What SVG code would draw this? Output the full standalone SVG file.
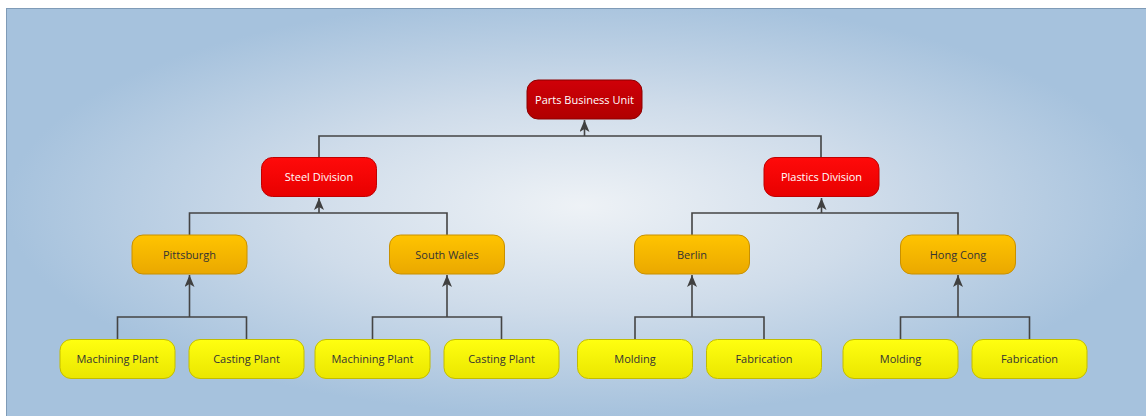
<svg xmlns="http://www.w3.org/2000/svg" width="1146" height="416" viewBox="0 0 1146 416">
  <defs>
    <radialGradient id="bg" cx="0.5" cy="0.47" r="0.5">
      <stop offset="0" stop-color="#eef2f6"/>
      <stop offset="0.5" stop-color="#cfdcea"/>
      <stop offset="1" stop-color="#a6c2dd"/>
    </radialGradient>
    <linearGradient id="gDark" x1="0" y1="0" x2="0" y2="1">
      <stop offset="0" stop-color="#d00008"/>
      <stop offset="1" stop-color="#b00000"/>
    </linearGradient>
    <linearGradient id="gRed" x1="0" y1="0" x2="0" y2="1">
      <stop offset="0" stop-color="#ff0a0a"/>
      <stop offset="1" stop-color="#e80000"/>
    </linearGradient>
    <linearGradient id="gOrange" x1="0" y1="0" x2="0" y2="1">
      <stop offset="0" stop-color="#ffc400"/>
      <stop offset="1" stop-color="#eaa800"/>
    </linearGradient>
    <linearGradient id="gYellow" x1="0" y1="0" x2="0" y2="1">
      <stop offset="0" stop-color="#ffff10"/>
      <stop offset="1" stop-color="#eae600"/>
    </linearGradient>
    <marker id="arr" viewBox="0 0 12 10" refX="12" refY="5" markerWidth="12" markerHeight="10" markerUnits="userSpaceOnUse" orient="auto">
      <path d="M0,0 L12,5 L0,10 L3,5 Z" fill="#404040"/>
    </marker>
    <style>
      .node rect { stroke-width: 1; }
      .dark rect { fill: url(#gDark); stroke: #8c0000; }
      .red rect { fill: url(#gRed); stroke: #c00000; }
      .orange rect { fill: url(#gOrange); stroke: #c89000; }
      .yellow rect { fill: url(#gYellow); stroke: #c2bc00; }
      .node text { font-family: "Open Sans", "Liberation Sans", Arial, sans-serif; font-size: 11px; text-anchor: middle; }
      .dark text, .red text { fill: #ffffff; }
      .orange text, .yellow text { fill: #333333; }
      .conn path { fill: none; stroke: #444444; stroke-width: 1.6; }
    </style>
  </defs>

  <rect x="6.5" y="8.5" width="1150" height="420" fill="url(#bg)" stroke="#7f9bb7" stroke-width="1"/>

  <g id="connectors" class="conn">
    <path d="M319,157 V136 H821 V157"/>
    <path d="M584.5,136 V120" marker-end="url(#arr)"/>
    <path d="M189.5,235 V213 H447 V235"/>
    <path d="M319,213 V198" marker-end="url(#arr)"/>
    <path d="M692,235 V213 H958 V235"/>
    <path d="M821.5,213 V198" marker-end="url(#arr)"/>
    <path d="M117.5,339 V317 H246.5 V339"/>
    <path d="M189.5,317 V275" marker-end="url(#arr)"/>
    <path d="M372.5,339 V317 H501.5 V339"/>
    <path d="M447,317 V275" marker-end="url(#arr)"/>
    <path d="M635,339 V317 H764 V339"/>
    <path d="M692,317 V275" marker-end="url(#arr)"/>
    <path d="M900.5,339 V317 H1029.5 V339"/>
    <path d="M958,317 V275" marker-end="url(#arr)"/>
  </g>

  <g id="parts-business-unit" class="node dark">
    <rect x="527" y="80" width="115" height="39" rx="11"/>
    <text x="584.5" y="103.5">Parts Business Unit</text>
  </g>
  <g id="steel-division" class="node red">
    <rect x="261.5" y="157.5" width="115" height="39" rx="11"/>
    <text x="319" y="181">Steel Division</text>
  </g>
  <g id="plastics-division" class="node red">
    <rect x="764" y="157.5" width="115" height="39" rx="11"/>
    <text x="821.5" y="181">Plastics Division</text>
  </g>

  <g id="pittsburgh" class="node orange">
    <rect x="132" y="235" width="115" height="39" rx="11"/>
    <text x="189.5" y="258.5">Pittsburgh</text>
  </g>
  <g id="south-wales" class="node orange">
    <rect x="389.5" y="235" width="115" height="39" rx="11"/>
    <text x="447" y="258.5">South Wales</text>
  </g>
  <g id="berlin" class="node orange">
    <rect x="634.5" y="235" width="115" height="39" rx="11"/>
    <text x="692" y="258.5">Berlin</text>
  </g>
  <g id="hong-cong" class="node orange">
    <rect x="900.5" y="235" width="115" height="39" rx="11"/>
    <text x="958" y="258.5">Hong Cong</text>
  </g>

  <g id="machining-plant-1" class="node yellow">
    <rect x="60" y="339.5" width="115" height="39" rx="11"/>
    <text x="117.5" y="363">Machining Plant</text>
  </g>
  <g id="casting-plant-1" class="node yellow">
    <rect x="189" y="339.5" width="115" height="39" rx="11"/>
    <text x="246.5" y="363">Casting Plant</text>
  </g>
  <g id="machining-plant-2" class="node yellow">
    <rect x="315" y="339.5" width="115" height="39" rx="11"/>
    <text x="372.5" y="363">Machining Plant</text>
  </g>
  <g id="casting-plant-2" class="node yellow">
    <rect x="444" y="339.5" width="115" height="39" rx="11"/>
    <text x="501.5" y="363">Casting Plant</text>
  </g>
  <g id="molding-1" class="node yellow">
    <rect x="577.5" y="339.5" width="115" height="39" rx="11"/>
    <text x="635" y="363">Molding</text>
  </g>
  <g id="fabrication-1" class="node yellow">
    <rect x="706.5" y="339.5" width="115" height="39" rx="11"/>
    <text x="764" y="363">Fabrication</text>
  </g>
  <g id="molding-2" class="node yellow">
    <rect x="843" y="339.5" width="115" height="39" rx="11"/>
    <text x="900.5" y="363">Molding</text>
  </g>
  <g id="fabrication-2" class="node yellow">
    <rect x="972" y="339.5" width="115" height="39" rx="11"/>
    <text x="1029.5" y="363">Fabrication</text>
  </g>
</svg>
